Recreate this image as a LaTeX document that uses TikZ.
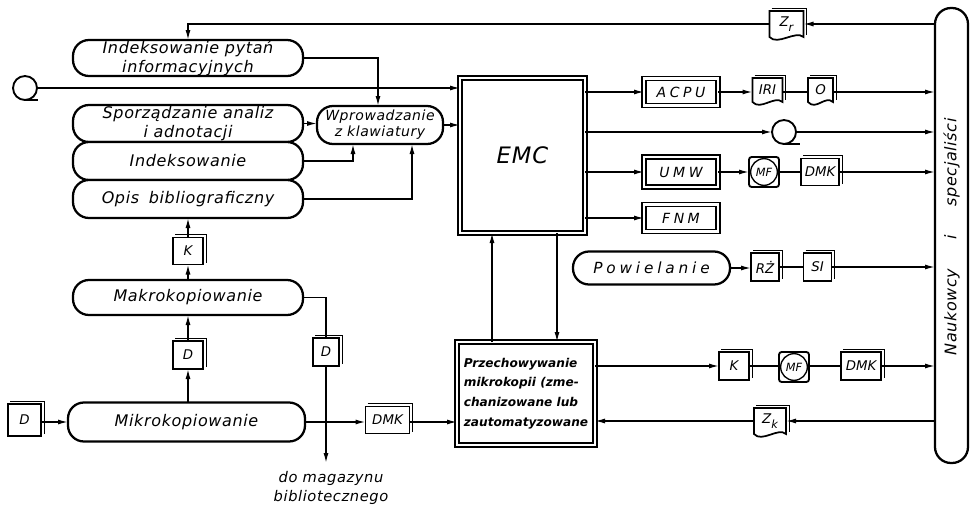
\documentclass[tikz,border=0pt]{standalone}
\usepackage{fontspec}
\setmainfont{DejaVu Sans}
\newfontfamily\labf[LetterSpace=4]{DejaVu Sans}
\newfontfamily\labw[LetterSpace=25]{DejaVu Sans}
\newfontfamily\przf{DejaVu Sans}
\usetikzlibrary{arrows.meta,calc}
\newdimen\px \px=0.75pt
\newcommand\wavy[1]{\draw[line width=1.3pt] (#1.south west) -- (#1.north west) -- (#1.north east) -- (#1.south east) .. controls ($(#1.south east)+(-8,-7)$) and ($(#1.south west)+(8,9)$) .. (#1.south west) -- cycle;}
\newcommand\stk[1]{\draw[line width=0.6pt] ($(#1.north west)+(2,-3)$) -- ($(#1.north east)+(3,-3)$) -- ($(#1.south east)+(3,-2)$);}
\tikzset{
  every node/.style={inner sep=0pt, outer sep=0pt},
  lab/.style={font=\labf\itshape\fontsize{12pt}{14pt}\selectfont},
  sz/.style 2 args={minimum width=#1\px, minimum height=#2\px},
  rbox/.style={draw, line width=1.7pt, rounded corners=12pt, fill=white, align=center, lab},
  dbox/.style={draw, double, double distance=2.2pt, line width=1pt, fill=white},
  sbox/.style={draw, line width=1.4pt, fill=white, font=\przf\itshape\fontsize{10pt}{11pt}\selectfont},
  doc/.style={font=\przf\itshape\fontsize{10pt}{11pt}\selectfont},
  conn/.style={line width=1.1pt},
  arr/.style={conn, -{Latex[length=7.5pt,width=3.8pt]}},
  tape/.style={draw, circle, line width=1.4pt, minimum size=24\px},
  mfbox/.style={draw, line width=1.4pt, rounded corners=2pt, sz={30}{30}, font=\przf\itshape\fontsize{8.5pt}{9pt}\selectfont},
}
\begin{document}
\begin{tikzpicture}[x=0.75pt,y=-0.75pt]
\useasboundingbox (0,0) rectangle (975,507);
% left column
\node[rbox, sz={230}{36}] (ip) at (188,58) {Indeksowanie pytań\\informacyjnych};
\node[rbox, sz={230}{37}] (sa) at (188,123.5) {Sporządzanie analiz\\i adnotacji};
\node[rbox, sz={230}{38}] (ind) at (188,161) {Indeksowanie};
\node[rbox, sz={230}{38}] (opis) at (188,199) {Opis\hspace{0.6em}bibliograficzny};
\node[rbox, sz={126}{38}, font=\labf\itshape\fontsize{10.5pt}{12pt}\selectfont] (wpr) at (380,125) {Wprowadzanie\\z klawiatury};
\node[tape] (tape1) at (25,88) {};
\draw[line width=1.4pt] (tape1.south) -- ++(13,0);
\node[sbox, sz={30}{27}] (kmid) at (188,251) {K};
\node[rbox, sz={230}{35}] (makro) at (188,297.5) {Makrokopiowanie};
\node[sbox, sz={30}{28}] (dmid) at (188,355) {D};
\node[rbox, sz={237}{39}] (mikro) at (186.5,422) {Mikrokopiowanie};
\node[sbox, sz={33}{32}] (dL) at (24.5,420) {D};
\node[sbox, sz={26}{28}] (dright) at (326,352) {D};
\node[sbox, sz={44}{27}] (dmk3) at (387.5,420) {DMK};
\node[lab, font=\labf\itshape\fontsize{11pt}{14pt}\selectfont, align=center] (maglab) at (331,488) {do magazynu\\bibliotecznego};
\stk{kmid}\stk{dmid}\stk{dL}\stk{dright}\stk{dmk3}
% central
\node[dbox, sz={125}{155}, font=\labf\itshape\fontsize{17pt}{19pt}\selectfont] (emc) at (522.5,155.5) {EMC};
\node[dbox, sz={138}{103}, align=left, font=\przf\bfseries\itshape\fontsize{9.1pt}{14.8pt}\selectfont] (przech) at (526,393.5) {Przechowywanie\\mikrokopii (zme-\\chanizowane lub\\zautomatyzowane};
% right
\node[draw, line width=1.7pt, rounded corners=12pt, sz={33}{455}] (bar) at (951.5,235.5) {};
\node[lab, rotate=90] (barlab) at (951.5,237) {Naukowcy\hspace{1.8em}i\hspace{1.8em}specjaliści};
\node[doc, sz={34}{26}] (zr) at (786.5,24) {Z\raisebox{-0.6ex}{\fontsize{8.5pt}{9pt}\selectfont r}};
\node[dbox, sz={74}{27}, font=\labw\itshape\fontsize{10.5pt}{12pt}\selectfont] (acpu) at (681,92) {ACPU};
\node[doc, sz={30}{24}] (iri) at (767.5,90) {IRI};
\node[doc, sz={25}{24}] (o) at (820.5,90) {O};
\node[tape] (tape2) at (784,132) {};
\draw[line width=1.4pt] (tape2.south) -- ++(16,0);
\node[dbox, sz={74}{30}, font=\labw\itshape\fontsize{10.5pt}{12pt}\selectfont] (umw) at (681,172) {UMW};
\node[mfbox] (mf1) at (764,172) {MF};
\node[sbox, sz={38}{27}] (dmk1) at (820,172) {DMK};
\node[dbox, sz={74}{27}, font=\labw\itshape\fontsize{10.5pt}{12pt}\selectfont] (fnm) at (681,218) {FNM};
\node[rbox, sz={157}{33}, font=\labw\itshape\fontsize{11.5pt}{13pt}\selectfont] (pow) at (651.5,268) {Powielanie};
\node[sbox, sz={28}{28}] (rz) at (765,267) {RŻ};
\node[sbox, sz={28}{28}] (si) at (817.5,267) {SI};
\node[sbox, sz={30}{28}] (k2) at (734,366) {K};
\node[mfbox] (mf2) at (794,367) {MF};
\node[sbox, sz={40}{28}] (dmk2) at (861,366) {DMK};
\node[doc, sz={32}{26}] (zk) at (770,421) {Z\raisebox{-0.6ex}{\fontsize{8.5pt}{9pt}\selectfont k}};
\draw[line width=1pt] (mf1) circle[radius=10pt];
\draw[line width=1pt] (mf2) circle[radius=10pt];
\wavy{zr}\wavy{iri}\wavy{o}\wavy{zk}
\stk{zr}\stk{iri}\stk{o}\stk{zk}\stk{dmk1}\stk{rz}\stk{si}\stk{k2}\stk{dmk2}
% connectors left
\coordinate (c1) at (353,0);
\coordinate (c2) at (378,0);
\coordinate (c3) at (412,0);
\coordinate (c4) at (492,0);
\coordinate (c5) at (557,0);
\coordinate (mag) at (326,463);
\draw[arr] (bar.west |- zr) -- (zr.east);
\draw[arr] (zr.west) -| (ip.north);
\draw[arr] (ip.east) -| (c2 |- wpr.north);
\draw[arr] (tape1.east) -- (tape1.east -| emc.west);
\draw[arr] (sa.east) -- (sa.east -| wpr.west);
\draw[arr] (ind.east) -| (c1 |- wpr.south);
\draw[arr] (opis.east) -| (c3 |- wpr.south);
\draw[arr] (wpr.east) -- (wpr.east -| emc.west);
\draw[arr] (kmid.north) -- (opis.south);
\draw[arr] (makro.north) -- (kmid.south);
\draw[arr] (dmid.north) -- (makro.south);
\draw[arr] (mikro.north -| dmid) -- (dmid.south);
\draw[arr] (dL.east |- mikro.west) -- (mikro.west);
\draw[conn] (makro.east) -| (dright.north);
\draw[arr] (dright.south) -- (mag);
\draw[arr] (mikro.east) -- (mikro.east -| dmk3.west);
\draw[arr] (dmk3.east |- mikro.east) -- (przech.west |- mikro.east);
\draw[arr] (przech.north -| c4) -- (emc.south -| c4);
\draw[arr] (emc.south -| c5) -- (przech.north -| c5);
% right connectors
\draw[arr] (emc.east |- acpu) -- (acpu.west);
\draw[arr] (acpu.east) -- (acpu.east -| iri.west);
\draw[conn] (iri.east |- acpu.east) -- (o.west |- acpu.east);
\draw[arr] (o.east |- acpu.east) -- (bar.west |- acpu.east);
\draw[arr] (emc.east |- tape2) -- (tape2.west);
\draw[arr] (tape2.east) -- (tape2.east -| bar.west);
\draw[arr] (emc.east |- umw) -- (umw.west);
\draw[arr] (umw.east) -- (mf1.west);
\draw[conn] (mf1.east) -- (dmk1.west);
\draw[arr] (dmk1.east) -- (dmk1.east -| bar.west);
\draw[arr] (emc.east |- fnm) -- (fnm.west);
\draw[arr] (pow.east) -- (pow.east -| rz.west);
\draw[conn] (rz.east) -- (si.west);
\draw[arr] (si.east) -- (si.east -| bar.west);
\draw[arr] (przech.east |- k2) -- (k2.west);
\draw[conn] (k2.east) -- (k2.east -| mf2.west);
\draw[conn] (mf2.east |- k2.east) -- (dmk2.west);
\draw[arr] (dmk2.east) -- (dmk2.east -| bar.west);
\draw[arr] (bar.west |- zk) -- (zk.east);
\draw[arr] (zk.west) -- (zk.west -| przech.east);
\end{tikzpicture}
\end{document}
